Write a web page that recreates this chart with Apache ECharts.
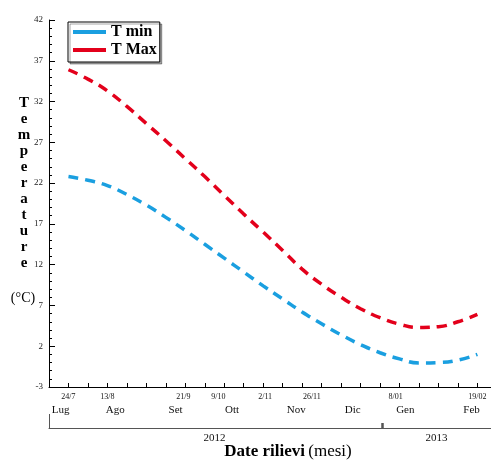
<!DOCTYPE html>
<html>
<head>
<meta charset="utf-8">
<script src="https://cdn.jsdelivr.net/npm/echarts@6/dist/echarts.min.js"></script>
<style>
  html, body { margin: 0; padding: 0; background: #fff; }
  #chart { width: 491px; height: 460px; }
</style>
</head>
<body>
<div id="chart"></div>
<script>
// Days counted from the first survey (24/7/2012)
const days = [0, 10, 20, 30, 40, 50, 60, 70, 80, 90, 100, 110, 120, 130, 140, 150, 160, 170, 180, 190, 200, 210];
const tMin = [22.8, 22.35, 21.7, 20.6, 19.3, 17.8, 16.2, 14.5, 12.8, 11.1, 9.4, 7.8, 6.2, 4.75, 3.4, 2.2, 1.2, 0.45, -0.05, 0.0, 0.3, 1.0];
const tMax = [35.9, 34.75, 33.3, 31.4, 29.3, 27.2, 25.0, 22.8, 20.5, 18.2, 16.0, 13.75, 11.45, 9.6, 8.0, 6.6, 5.5, 4.7, 4.3, 4.4, 5.0, 5.9];

// Survey dates along the time axis
const surveyDays = [0, 20, 59, 77, 101, 125, 168, 210];
const surveyLabels = ['24/7', '13/8', '21/9', '9/10', '2/11', '26/11', '8/01', '19/02'];

// Month names
const monthDays = [-4, 24, 55, 84, 117, 146, 173, 207];
const monthLabels = ['Lug', 'Ago', 'Set', 'Ott', 'Nov', 'Dic', 'Gen', 'Feb'];

// Years (label centres and the year boundary at 1/1/2013)
const yearDays = [75, 189];
const yearLabels = ['2012', '2013'];
const yearBreak = [161];

// Temperature tick labels
const yTickLabels = [-3, 2, 7, 12, 17, 22, 27, 32, 37, 42];

const X_MIN = -10, X_MAX = 217;
const Y_MIN = -3, Y_MAX = 42;
const SERIF = '"Liberation Serif", "Times New Roman", serif';

const yMinorTicks = [];
for (let v = Y_MIN; v <= Y_MAX; v++) yMinorTicks.push(v);

const chart = echarts.init(document.getElementById('chart'), null, { renderer: 'canvas' });

const baseX = {
  type: 'value', min: X_MIN, max: X_MAX, position: 'bottom',
  splitLine: { show: false }
};

chart.setOption({
  animation: false,
  backgroundColor: '#fff',
  grid: { left: 49, right: 0, top: 20, bottom: 73, containLabel: false, outerBoundsMode: 'none' },
  legend: {
    orient: 'vertical',
    left: 68, top: 22,
    padding: [2, 3, 4, 5],
    itemGap: 2,
    itemWidth: 33, itemHeight: 4,
    icon: 'rect',
    backgroundColor: '#fff',
    borderColor: '#000', borderWidth: 1,
    shadowColor: 'rgba(0,0,0,0.35)', shadowBlur: 0, shadowOffsetX: 2, shadowOffsetY: 2,
    textStyle: { fontFamily: SERIF, fontWeight: 'bold', fontSize: 16, color: '#000', lineHeight: 16 },
    data: ['T min', 'T Max']
  },
  xAxis: [
    Object.assign({}, baseX, {
      interval: 10,
      axisLine: { show: true, onZero: false, lineStyle: { color: '#000', width: 1 } },
      axisTick: { show: true, inside: true, length: 4, lineStyle: { color: '#000', width: 1 } },
      axisLabel: {
        customValues: surveyDays,
        formatter: v => surveyLabels[surveyDays.indexOf(v)],
        fontFamily: SERIF, fontSize: 8, color: '#111', margin: 6
      }
    }),
    Object.assign({}, baseX, {
      axisLine: { show: false, onZero: false },
      axisTick: { show: false },
      axisLabel: {
        customValues: monthDays,
        formatter: v => monthLabels[monthDays.indexOf(v)],
        fontFamily: SERIF, fontSize: 11, color: '#111', margin: 18
      }
    }),
    Object.assign({}, baseX, {
      offset: 41,
      axisLine: { show: true, onZero: false, lineStyle: { color: '#555', width: 1 } },
      axisTick: { show: true, inside: true, length: 5, customValues: yearBreak, lineStyle: { color: '#555', width: 2.5 } },
      axisLabel: {
        customValues: yearDays,
        formatter: v => yearLabels[yearDays.indexOf(v)],
        fontFamily: SERIF, fontSize: 11, color: '#111', margin: 5
      }
    }),
    Object.assign({}, baseX, {
      offset: 41,
      axisLine: { show: false, onZero: false },
      axisTick: { show: true, inside: true, length: 14, customValues: [X_MIN], lineStyle: { color: '#555', width: 1 } },
      axisLabel: { show: false }
    })
  ],
  yAxis: [
    {
      type: 'value', min: Y_MIN, max: Y_MAX, position: 'left',
      splitLine: { show: false },
      axisLine: { show: true, onZero: false, lineStyle: { color: '#000', width: 1 } },
      axisTick: { show: true, inside: true, length: 6, customValues: yTickLabels, lineStyle: { color: '#000', width: 1 } },
      axisLabel: { customValues: yTickLabels, fontFamily: SERIF, fontSize: 9, color: '#222', margin: 6 }
    },
    {
      type: 'value', min: Y_MIN, max: Y_MAX, position: 'left',
      splitLine: { show: false },
      axisLine: { show: false, onZero: false },
      axisTick: { show: true, inside: true, length: 3, customValues: yMinorTicks, lineStyle: { color: '#000', width: 1 } },
      axisLabel: { show: false }
    }
  ],
  graphic: [
    {
      type: 'text', x: 24, y: 95,
      style: {
        text: 'T\ne\nm\np\ne\nr\na\nt\nu\nr\ne',
        font: 'bold 15px ' + SERIF, lineHeight: 16, align: 'center', fill: '#000'
      }
    },
    {
      type: 'text', x: 23, y: 291,
      style: { text: '(°C)', font: '14px ' + SERIF, align: 'center', fill: '#000' }
    },
    {
      type: 'text', x: 288, y: 443,
      style: {
        text: '{b|Date rilievi} {n|(mesi)}',
        align: 'center',
        rich: {
          b: { fontFamily: SERIF, fontWeight: 'bold', fontSize: 17, fill: '#000' },
          n: { fontFamily: SERIF, fontSize: 17, fill: '#000' }
        }
      }
    }
  ],
  series: [
    {
      name: 'T min', type: 'line', smooth: true, showSymbol: false,
      xAxisIndex: 0, yAxisIndex: 0,
      color: '#1a9fe0',
      lineStyle: { color: '#1a9fe0', width: 3.5, type: [10, 7] },
      data: days.map((d, i) => [d, tMin[i]])
    },
    {
      name: 'T Max', type: 'line', smooth: true, showSymbol: false,
      xAxisIndex: 0, yAxisIndex: 0,
      color: '#e3001b',
      lineStyle: { color: '#e3001b', width: 3.5, type: [10, 7] },
      data: days.map((d, i) => [d, tMax[i]])
    }
  ]
});
</script>
</body>
</html>
